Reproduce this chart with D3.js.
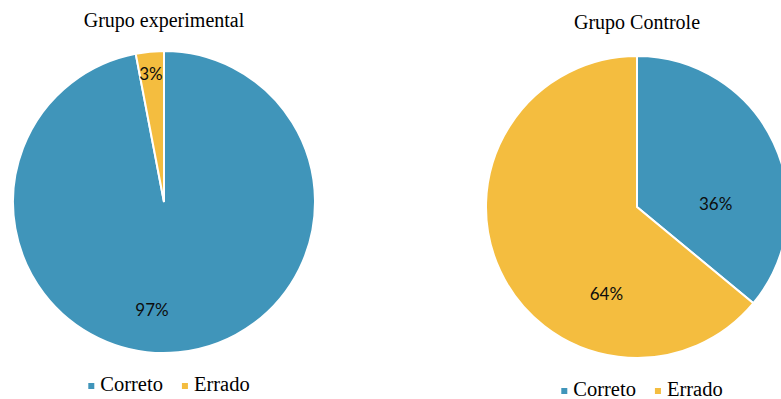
<!DOCTYPE html>
<html>
<head>
<meta charset="utf-8">
<script src="https://cdn.jsdelivr.net/npm/d3@7"></script>
<style>
    body { margin: 0; background: #fff; }
    .title { font-family: "Liberation Serif", "Times New Roman", serif; font-size: 20px; fill: #000; }
    .legend text { font-family: "Liberation Serif", "Times New Roman", serif; font-size: 20.5px; fill: #000; }
    .label { font-family: Lato, "Open Sans", sans-serif; font-size: 17px; fill: #0d0d0d; }
</style>
</head>
<body>
<svg id="chart"></svg>
<script>
// categories and values
var categories = ["Correto", "Errado"];
var colors = ["#4095ba", "#f4bd3f"];

var groups = ["Grupo experimental", "Grupo Controle"];
var experimental = [97, 3];
var controle = [36, 64];

// small nudges so labels land where the original placed them
var labelNudge = [
    [{dx: -22, dy: 3}, {dx: -1, dy: 0}],
    [{dx: -17, dy: 42}, {dx: 65, dy: 42}]
];

const width = 781, height = 399;

const svg = d3.select("#chart")
    .attr("width", width)
    .attr("height", height);

const layout = [
    {cx: 164, cy: 202, r: 151, titleY: 27, legendY: 391},
    {cx: 637, cy: 207, r: 151, titleY: 29, legendY: 396}
];

const color = d3.scaleOrdinal()
    .domain(categories)
    .range(colors);

const pie = d3.pie()
    .sort(null)
    .value(d => d.value);

function drawPie(values, g, idx) {
    const L = layout[idx];
    const data = categories.map((c, i) => ({name: c, value: values[i]}));
    const arcs = pie(data);

    const arc = d3.arc().innerRadius(0).outerRadius(L.r);
    const labelArc = d3.arc().innerRadius(L.r * 0.85).outerRadius(L.r * 0.85);
    const total = d3.sum(values);

    const grp = svg.append("g")
        .attr("transform", `translate(${L.cx} ${L.cy})`);

    grp.selectAll("path")
        .data(arcs)
        .enter()
        .append("path")
        .attr("d", arc)
        .style("fill", d => color(d.data.name))
        .style("stroke", "#fff")
        .style("stroke-width", "2px");

    grp.selectAll(".label")
        .data(arcs)
        .enter()
        .append("text")
        .attr("class", "label")
        .attr("text-anchor", "middle")
        .attr("dy", "0.35em")
        .attr("transform", function (d, i) {
            // big slices put the label nearer to the middle
            const frac = d.data.value / total;
            const c = frac > 0.2 ? d3.arc().innerRadius(L.r * 0.7).outerRadius(L.r * 0.7).centroid(d) : labelArc.centroid(d);
            const n = labelNudge[idx][i];
            return `translate(${c[0] + n.dx} ${c[1] + n.dy})`;
        })
        .text(d => Math.round(d.data.value / total * 100) + "%");

    svg.append("text")
        .attr("class", "title")
        .attr("x", L.cx)
        .attr("y", L.titleY)
        .attr("text-anchor", "middle")
        .text(groups[idx]);

    // legend
    const leg = svg.append("g").attr("class", "legend");
    const items = leg.selectAll("g")
        .data(categories)
        .enter()
        .append("g");
    items.append("rect")
        .attr("width", 6)
        .attr("height", 6)
        .attr("y", -8)
        .style("fill", d => color(d));
    items.append("text")
        .attr("x", 12)
        .text(d => d);

    let x = 0;
    items.each(function () {
        d3.select(this).attr("transform", `translate(${x} 0)`);
        x += this.getBBox().width + 19;
    });
    const legW = x - 19;
    leg.attr("transform", `translate(${L.cx + 5 - legW / 2} ${L.legendY})`);
}

drawPie(experimental, svg, 0);
drawPie(controle, svg, 1);
</script>
</body>
</html>
